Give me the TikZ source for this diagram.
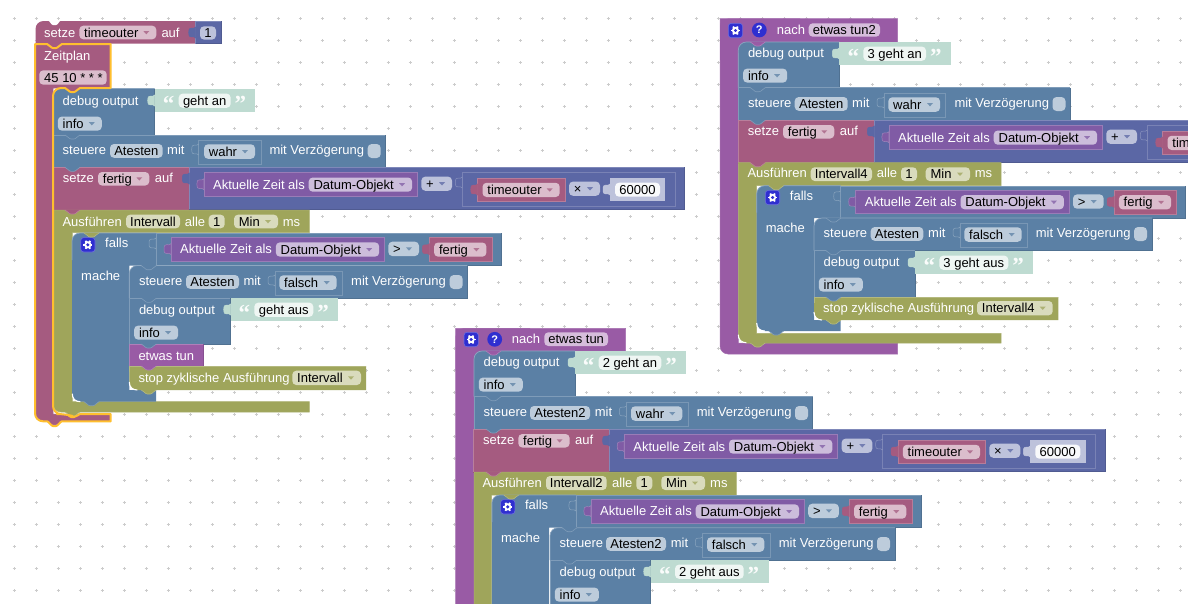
\documentclass[tikz,border=0pt]{standalone}
\usepackage{fontspec}
\setmainfont{Liberation Sans}
\newfontfamily\qfont{Liberation Serif}
\definecolor{bv}{HTML}{A55B80}\definecolor{fv}{HTML}{DBBDCC}
\definecolor{bb}{HTML}{5B80A5}\definecolor{fb}{HTML}{BDCCDB}
\definecolor{bo}{HTML}{9FA55B}\definecolor{fo}{HTML}{D9DBBD}
\definecolor{bp}{HTML}{995BA5}\definecolor{fp}{HTML}{D6BDDB}
\definecolor{bt}{HTML}{805BA5}\definecolor{ft}{HTML}{CCBDDB}
\definecolor{bm}{HTML}{5B67A5}\definecolor{fm}{HTML}{BDC2DB}
\definecolor{bg}{HTML}{BEDBD1}\definecolor{fg}{HTML}{EFF6F3}
\definecolor{hl}{HTML}{FFBF2E}\definecolor{icon}{HTML}{2F2FD0}
\newcount\nd
\tikzset{
 lab/.style={anchor=west,inner sep=0pt,text height=11pt,text depth=2pt,font=\fontsize{13}{15}\selectfont},
 white lab/.style={lab,text=white},
 mid lab/.style={lab,anchor=center,text=black},
 quote/.style={anchor=base west,inner sep=0pt,text=white!92!bg,font=\qfont\bfseries\fontsize{23}{23}\selectfont},
 dot/.style={draw=black!20,line width=.5pt}
}
% white label
\newcommand\lbl[3]{\global\advance\nd by 1 \node[white lab] (n\the\nd) at (#1,#2) {#3};}
% field, centred text
\newcommand\fld[6]{\fill[f#6,rounded corners=4pt] (#1,#3) rectangle (#2,#4);
 \global\advance\nd by 1 \node[mid lab] (n\the\nd) at ({(#1+#2)/2},{(#3+#4)/2}) {#5};}
% dropdown field
\newcommand\dfld[6]{\fill[f#6,rounded corners=4pt] (#1,#3) rectangle (#2,#4);
 \global\advance\nd by 1 \node[lab,text=black] (n\the\nd) at (#1+4.7,{(#3+#4)/2}) {#5};
 \fill[b#6!85!white] ({#2-13},{(#3+#4)/2-1.5}) -- ({#2-7},{(#3+#4)/2-1.5}) -- ({#2-10},{(#3+#4)/2+1.8}) -- cycle;}
% rectangular block
\newcommand\blk[5]{\fill[#5] (#1,#2) rectangle (#3,#4);
 \draw[#5!78!white,line width=.7pt] (#1,#4) -- (#1,#2) -- (#3,#2);
 \draw[#5!88!black,line width=.6pt] (#1,#4) -- (#3,#4) -- (#3,#2);}
% block with rounded top-left
\newcommand\blkT[5]{\fill[#5] (#1,#4) [rounded corners=8pt]-- (#1,#2) [sharp corners]-- (#3,#2) -- (#3,#4) -- cycle;
 \draw[#5!70!white,line width=.7pt] (#1,#4) [rounded corners=8pt]-- (#1,#2) [sharp corners]-- (#3,#2);
 \draw[#5!88!black,line width=.6pt] (#1,#4) -- (#3,#4) -- (#3,#2);}
% block with rounded bottom-left (white arc)
\newcommand\blkB[5]{\fill[#5] (#1,#2) -- (#3,#2) -- (#3,#4) [rounded corners=8pt]-- (#1,#4) [sharp corners]-- cycle;
 \draw[#5!78!white,line width=.7pt] (#3,#2) -- (#1,#2) -- ++(0,6);
 \whitearc{#1}{#4}}
\newcommand\whitearc[2]{\draw[white,line width=1.1pt] (#1,#2-8) .. controls (#1,#2-3) and (#1+3,#2) .. (#1+8,#2);}
% statement tab hanging below y, block left x
\newcommand\btab[3]{\fill[#3] (#1+12,#2-.5) .. controls (#1+14,#2+.5) and (#1+16,#2+4) .. (#1+18,#2+4) -- (#1+21,#2+4) .. controls (#1+23,#2+4) and (#1+25,#2+.5) .. (#1+27,#2-.5) -- cycle;
 \draw[#3!78!white,line width=.6pt] (#1+12,#2) .. controls (#1+14,#2+.5) and (#1+16,#2+4) .. (#1+18,#2+4) -- (#1+21,#2+4) .. controls (#1+23,#2+4) and (#1+25,#2+.5) .. (#1+27,#2);}
% value tab, right end x, top y
\newcommand\vtab[4]{\fill[#3,draw=#4,line width=.5pt] (#1,#2) .. controls (#1-2,#2+3.5) and (#1-7,#2-2.5) .. (#1-7,#2+5.5) .. controls (#1-7,#2+13.5) and (#1-2,#2+7.5) .. (#1,#2+11) -- cycle;}
% C shaped block
\newcommand\cblk[8]{\fill[#8,draw=#8!88!white,line width=.5pt] (#1,#4) -- (#3,#4) -- (#3,#5) -- (#2,#5) -- (#2,#6) -- (#3,#6) -- (#3,#7) [rounded corners=8pt]-- (#1,#7) [sharp corners]-- cycle;}
\newcommand\checkb[2]{\fill[fb,rounded corners=4pt] (#1,#2) rectangle (#1+13,#2+14);}
% text shadow block: x1,x2,y,f1,f2,text
\newcommand\txt[6]{\fill[bg] (#1,#3) rectangle (#2,#3+22.7);
 \vtab{#1}{#3+6}{bg}{bg}
 \fld{#4}{#5}{#3+4.6}{#3+18.8}{#6}{g}
 \global\advance\nd by 1 \node[quote] (n\the\nd) at (#4-16,#3+22) {“};
 \global\advance\nd by 1 \node[quote] (n\the\nd) at (#5+3.8,#3+22) {”};}
% debug block: x,y
\newcommand\dbg[2]{\lbl{#1+9.5}{#2+11.7}{debug output}
 \dfld{#1+4.8}{#1+48.8}{#2+27.6}{#2+41.6}{info}{b}}
% steuere: x,y,right,name,a1,a2,mitx
\newcommand\steu[7]{\lbl{#1+9.5}{#2+15.3}{steuere}
 \fld{#5}{#6}{#2+9}{#2+22.8}{#4}{b}
 \lbl{#7}{#2+15.3}{mit}}
% value of steuere: y,o1,o2,f1,f2,text,mvx,cx
\newcommand\stv[8]{\fill[bb,draw=bb!82!white,line width=.7pt] (#2,#1+5) rectangle (#3,#1+29);
 \vtab{#2}{#1+9}{bb}{bb!72!white}
 \dfld{#4}{#5}{#1+9.3}{#1+23.8}{#6}{b}
 \lbl{#7}{#1+15.3}{mit Verzögerung}
 \checkb{#8}{#1+9}}
% variable reporter: x1,x2,y,text
\newcommand\varb[4]{\fill[bv,draw=bv!80!white,line width=.7pt] (#1,#3) rectangle (#2,#3+23.5);
 \vtab{#1}{#3+6}{bv}{bv}
 \dfld{#1+4.8}{#2-5.6}{#3+4.8}{#3+19}{#4}{v}}
% Aktuelle Zeit: x1,y
\newcommand\zeit[2]{\fill[bt,draw=bt!80!white,line width=.7pt] (#1,#2) rectangle (#1+213.6,#2+23.4);
 \vtab{#1}{#2+6}{bt}{bt!75!white}
 \lbl{#1+9}{#2+11.8}{Aktuelle Zeit als}
 \dfld{#1+104.8}{#1+208.2}{#2+4.8}{#2+19}{Datum-Objekt}{t}}
\newcommand\gear[2]{\fill[icon,draw=icon!70!white,line width=.6pt,rounded corners=3pt] (#1,#2) rectangle (#1+14.3,#2+14.4);
 \foreach \a in {0,60,...,300}{\draw[white,line width=1.8pt] (#1+7.15,#2+7.2) -- ++(\a:4.6pt);}
 \fill[white] (#1+7.15,#2+7.2) circle[radius=3.6pt];
 \fill[icon] (#1+7.15,#2+7.2) circle[radius=1.7pt];}
\newcommand\helpi[2]{\fill[icon] (#1,#2) circle[radius=7.4pt];
 \global\advance\nd by 1 \node[inner sep=0pt,text=white,font=\bfseries\fontsize{11}{11}\selectfont] (n\the\nd) at (#1,#2) {?};}
% setze fertig + maths, in group 1 coordinates
\newcommand\setzegrp{
 \blk{53}{167.3}{189.3}{210}{bv}
 \lbl{62.7}{178.3}{setze}
 \dfld{98}{149.3}{172}{185.5}{fertig}{v}
 \lbl{154.7}{178.3}{auf}
 \blk{189.3}{167.3}{684.7}{209.3}{bm}
 \vtab{189.3}{173}{bm}{bm}
 \zeit{203.9}{172.7}
 \dfld{421.3}{452}{176.6}{190.8}{+}{m}
 \fill[bm,draw=bm!82!white,line width=.7pt] (462.3,172.7) rectangle (675.3,206.7);
 \vtab{462.3}{177}{bm}{bm!72!white}
 \varb{477.7}{565.3}{178}{timeouter}
 \dfld{569}{600}{181.6}{195.8}{×}{m}
 \fill[fm] (610,178) rectangle (665.3,201.3);
 \vtab{610}{184}{fm}{fm}
 \fill[white!90!fm,rounded corners=4pt] (615,182.7) rectangle (660,196.7);
 \global\advance\nd by 1 \node[mid lab] (n\the\nd) at (637.5,189.7) {60000};
}
% falls head, group 1 coordinates: #1 bar top, #2 bottom
\newcommand\fallsgrp[2]{
 \fill[bb] (72,241) [rounded corners=8pt]-- (72,233) [sharp corners]-- (156,233) -- (156,265.5) -- (129.3,265.5) -- (129.3,#1) -- (156,#1) -- (156,#2) [rounded corners=8pt]-- (72,#2) [sharp corners]-- cycle;
 \draw[bb!70!white,line width=.7pt] (72,260) [rounded corners=8pt]-- (72,233) [sharp corners]-- (156,233);
 \blk{156}{233.3}{501}{265.5}{bb}
 \vtab{156}{238}{bb}{bb!72!white}
 \gear{80.7}{237.6}
 \lbl{105}{243.3}{falls}
 \lbl{81}{275.7}{mache}
 \zeit{171}{237.6}
 \dfld{388.3}{419}{241.7}{256}{>}{b}
 \varb{429.3}{492}{237.7}{fertig}
}
\begin{document}
\begin{tikzpicture}[x=1pt,y=-1pt]
\clip (0,0) rectangle (1188,603);
\fill[white] (0,0) rectangle (1188,603);
% ---- background grid
\foreach \i in {0,...,54}{\foreach \j in {0,...,27}{
 \path ({14+22*\i},{18.5+22*\j}) coordinate (p);
 \draw[dot] (p) ++(-1.5,0) -- ++(3,0) (p) ++(0,-1.5) -- ++(0,3);}}
% ================= group 1
\fill[bv] (35.5,43.5) [rounded corners=8pt]-- (35.5,21) [sharp corners]-- (195.7,21) -- (195.7,43.5) -- cycle;
\fill[white] (48,20.5) .. controls (50,21) and (51,25) .. (53,25) -- (56,25) .. controls (58,25) and (59,21) .. (61,20.5) -- cycle;
\blk{195.7}{21}{221.3}{43.5}{bm}
\vtab{195.7}{27}{bm}{bm}
\lbl{44}{32.7}{setze}
\dfld{79.3}{156.3}{25.7}{39.3}{timeouter}{v}
\lbl{161.3}{32.7}{auf}
\fld{200}{216}{26.3}{39.6}{1}{m}
% Zeitplan
\cblk{35}{53}{110.7}{44}{88}{414}{421}{bv}
\lbl{44}{55.7}{Zeitplan}
\fill[fv,rounded corners=4pt] (39.3,70.3) rectangle (106.7,84.7);
\global\advance\nd by 1 \node[lab,text=black] (n\the\nd) at (44,77.5) {45 10 * * *};
% stack
\blkT{53}{88.5}{154.7}{135}{bb}
\dbg{53}{89}
\txt{154.7}{255.3}{89}{178.7}{230.7}{geht an}
\blk{53}{135}{385.3}{167.3}{bb}
\steu{53}{135}{385.3}{Atesten}{110}{162.7}{167}
\stv{135}{198.7}{261.3}{204}{255}{wahr}{269.3}{367.7}
\setzegrp
\cblk{53}{72.3}{309.3}{210}{232.7}{401.7}{412}{bo}
\lbl{62.3}{221.7}{Ausführen}
\fld{126}{180}{214.7}{228.3}{Intervall}{o}
\lbl{184.7}{221.7}{alle}
\fld{208.7}{224.7}{214.7}{228.3}{1}{o}
\dfld{234}{278}{214.7}{228.3}{Min}{o}
\lbl{282.7}{221.7}{ms}
\fallsgrp{390}{401.7}
\blkT{129.3}{265.5}{467.3}{298.3}{bb}
\steu{129.3}{266}{467.3}{Atesten}{186}{239}{243.3}
\stv{266}{275}{342.7}{279.3}{336.7}{falsch}{351}{449.7}
\blk{129.3}{298.3}{230.7}{344}{bb}
\dbg{129.3}{298}
\txt{230.7}{337.7}{298}{254.3}{313.3}{geht aus}
\blk{129.3}{344}{203.3}{366}{bp}
\lbl{138.3}{355.7}{etwas tun}
\blkB{129.3}{366}{366}{390}{bo}
\lbl{138.3}{377.7}{stop zyklische Ausführung}
\dfld{292.3}{361}{370.7}{385}{Intervall}{o}
\whitearc{72.3}{401.7}
% bottoms of blocks
\btab{53}{135}{bb}\btab{53}{167.3}{bb}\btab{53}{210}{bv}
\btab{129.3}{298.3}{bb}\btab{129.3}{344}{bb}\btab{129.3}{366}{bp}\btab{129.3}{390}{bo}
\btab{72}{401.7}{bb}\btab{72}{233}{bo}\btab{129.3}{265.7}{bb}
\btab{53}{412}{bo}
\btab{53}{88}{bv}
\btab{35}{421}{bv}
\btab{35}{43.5}{bv}
% highlight
\draw[hl,line width=2pt,line join=round] (35,44) -- (47,44) .. controls (49,44.5) and (51,48) .. (53,48) -- (56,48) .. controls (58,48) and (60,44.5) .. (62,44) -- (110.7,44) -- (110.7,88) -- (80,88) .. controls (78,88.5) and (76,92) .. (74,92) -- (71,92) .. controls (69,92) and (67,88.5) .. (65,88) [rounded corners=8pt]-- (53,88) -- (53,414) -- (65,414) [sharp corners] .. controls (67,414.5) and (69,417) .. (71,417) -- (74,417) .. controls (76,417) and (78,414.5) .. (80,414) -- (110.7,414) -- (110.7,421.3) -- (62,421.3) .. controls (60,421.5) and (58,426) .. (56,426) -- (53,426) .. controls (51,426) and (49,421.5) .. (47,421.3) [rounded corners=8pt]-- (35,421.3) [sharp corners]-- cycle;
% ================= group 3
\cblk{720}{738.3}{897.7}{18.7}{42}{343}{354}{bp}
\fill[bp] (720,60) [rounded corners=8pt]-- (720,18.7) [sharp corners]-- (800,18.7) -- (800,30) -- cycle;
\gear{728.3}{23.3}
\helpi{759.3}{30}
\lbl{776.7}{30}{nach}
\fld{808.7}{880}{23.3}{36.7}{etwas tun2}{p}
\blkT{738.3}{42}{839.3}{87.7}{bb}
\dbg{738.3}{41}
\txt{839.3}{950.7}{42}{863.3}{926}{3 geht an}
\blk{738.3}{87.7}{1070.3}{120.3}{bb}
\steu{738.3}{88}{1070.3}{Atesten}{794.7}{847.7}{852}
\stv{88}{884}{945.7}{888.3}{940}{wahr}{954.3}{1052.5}
\begin{scope}[shift={(685,-47)}]
\setzegrp
\end{scope}
\cblk{738.3}{756.7}{1001}{162.7}{185.7}{333.3}{343}{bo}
\lbl{747.3}{173.3}{Ausführen}
\fld{810.7}{872}{167.3}{181}{Intervall4}{o}
\lbl{876.7}{173.3}{alle}
\fld{901}{917}{167.3}{181}{1}{o}
\dfld{925.7}{970}{167.3}{181}{Min}{o}
\lbl{974.7}{173.3}{ms}
\begin{scope}[shift={(684.7,-47.3)}]
\fallsgrp{367.3}{378.3}
\end{scope}
\blkT{814}{218}{1152}{250.7}{bb}
\steu{814}{218}{1152}{Atesten}{870.7}{923.3}{928}
\stv{218}{960}{1027.3}{964.3}{1021.7}{falsch}{1035.7}{1134}
\blk{814}{250.7}{915}{297}{bb}
\dbg{814}{250}
\txt{915}{1033}{251}{939.3}{1008.3}{3 geht aus}
\blkB{814}{297}{1058.3}{320}{bo}
\lbl{823}{307.7}{stop zyklische Ausführung}
\dfld{977}{1052.7}{301}{315.3}{Intervall4}{o}
\whitearc{756.7}{331}
\whitearc{738.3}{342.7}
\btab{738.3}{42}{bp}\btab{738.3}{87.7}{bb}\btab{738.3}{120.3}{bb}\btab{738.3}{162.7}{bv}
\btab{756.7}{185.7}{bo}\btab{814}{218}{bb}\btab{814}{250.7}{bb}\btab{814}{297}{bb}\btab{814}{320}{bo}
\btab{756.7}{331}{bb}\btab{738.3}{343}{bo}
% ================= group 2
\cblk{455.7}{474}{625.7}{328.3}{351}{700}{710}{bp}
\fill[bp] (455.7,370) [rounded corners=8pt]-- (455.7,328.3) [sharp corners]-- (530,328.3) -- (530,340) -- cycle;
\gear{464}{332.3}
\helpi{494.7}{339.3}
\lbl{511.7}{339.3}{nach}
\fld{544.3}{608}{332.3}{346}{etwas tun}{p}
\blkT{474}{351}{575}{396.7}{bb}
\dbg{474}{350}
\txt{575}{686}{351}{598.7}{661.3}{2 geht an}
\blk{474}{396.7}{812.7}{429}{bb}
\steu{474}{397}{812.7}{Atesten2}{530}{590}{594.7}
\stv{397}{626.3}{688.7}{631}{682.3}{wahr}{696.7}{795}
\begin{scope}[shift={(420.3,262)}]
\setzegrp
\end{scope}
\cblk{474}{491.7}{736.3}{472}{495}{700}{710}{bo}
\lbl{482.3}{482.7}{Ausführen}
\fld{546}{606.7}{476}{490}{Intervall2}{o}
\lbl{612}{482.7}{alle}
\fld{636.3}{652.3}{476}{490}{1}{o}
\dfld{661.3}{705}{476}{490}{Min}{o}
\lbl{710}{482.7}{ms}
\begin{scope}[shift={(419.9,262)}]
\fallsgrp{700}{710}
\end{scope}
\blkT{550}{527.7}{895}{560}{bb}
\steu{550}{528}{895}{Atesten2}{606}{666}{670.7}
\stv{528}{702.3}{770}{707}{764.3}{falsch}{778.7}{877}
\blk{550}{560}{650.7}{620}{bb}
\dbg{550}{560}
\txt{650.7}{768.7}{560}{675}{743.7}{2 geht aus}
\btab{474}{351}{bp}\btab{474}{396.7}{bb}\btab{474}{429}{bb}\btab{474}{472}{bv}
\btab{491.7}{495}{bo}\btab{550}{527.7}{bb}\btab{550}{560}{bb}
\end{tikzpicture}
\end{document}
